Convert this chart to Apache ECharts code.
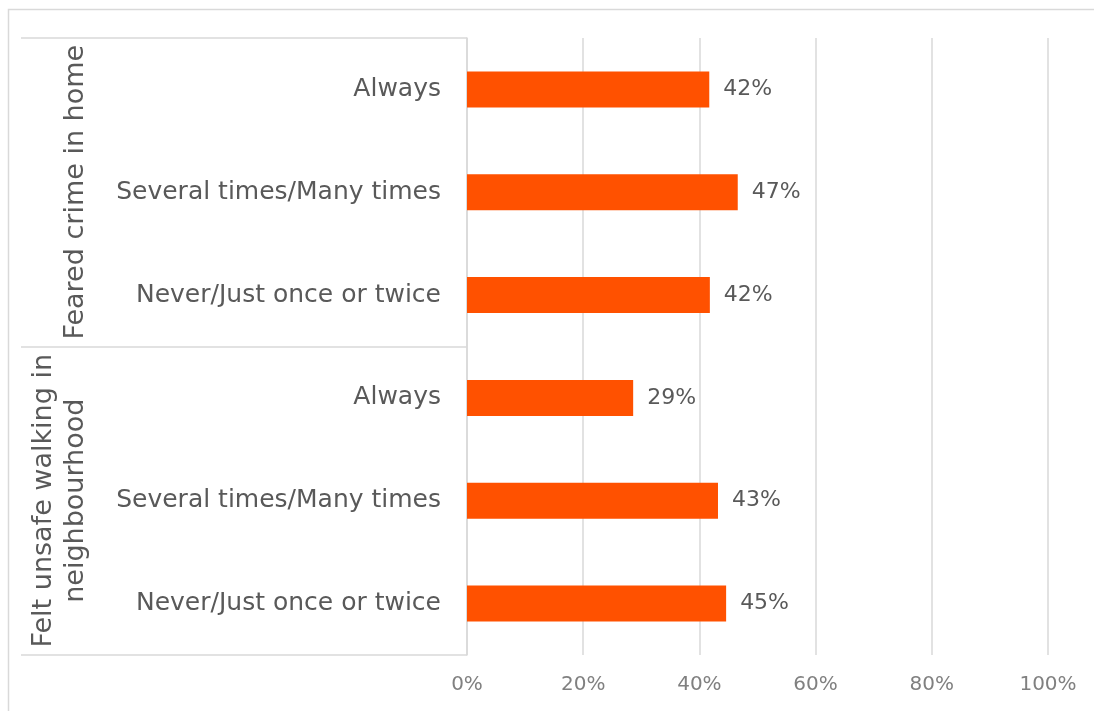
<!DOCTYPE html>
<html>
<head>
<meta charset="utf-8">
<script src="https://cdn.jsdelivr.net/npm/echarts@6/dist/echarts.min.js"></script>
<style>
html, body { margin: 0; padding: 0; background: #fff; }
#chart { width: 1094px; height: 711px; }
</style>
</head>
<body>
<div id="chart"></div>
<script>
// answer categories, top to bottom
var categories = [
    'Always', 'Several times/Many times', 'Never/Just once or twice',
    'Always', 'Several times/Many times', 'Never/Just once or twice'
];
// groups of three answers
var groups = ['Feared crime in home', 'Felt unsafe walking in\nneighbourhood'];
// share of respondents (fraction)
var values = [0.417, 0.466, 0.418, 0.286, 0.432, 0.446];
var ticks = [0, 0.2, 0.4, 0.6, 0.8, 1];

var fontFam = 'DejaVu Sans';
var myChart = echarts.init(document.getElementById('chart'));
myChart.setOption({
    animation: false,
    textStyle: { fontFamily: fontFam },
    // outer frame (left and top edges only are visible)
    graphic: [{
        type: 'polyline',
        shape: { points: [[8.5, 720], [8.5, 9.5], [1100, 9.5]] },
        style: { fill: null, stroke: '#d9d9d9', lineWidth: 1.5 },
        silent: true
    }],
    grid: { left: 467, right: 46, top: 38, bottom: 56 },
    xAxis: {
        type: 'value',
        min: ticks[0],
        max: ticks[ticks.length - 1],
        interval: 0.2,
        axisLine: { show: false },
        axisTick: { show: false },
        splitLine: { lineStyle: { color: '#d9d9d9', width: 1.5 } },
        axisLabel: {
            margin: 20,
            color: '#808080',
            fontSize: 20,
            fontFamily: fontFam,
            formatter: function (v) { return Math.round(v * 100) + '%'; }
        }
    },
    yAxis: [{
        type: 'category',
        data: categories,
        inverse: true,
        position: 'left',
        offset: 0,
        axisLine: { show: false },
        axisTick: { show: false },
        axisLabel: { margin: 26, color: '#595959', fontSize: 25, fontFamily: fontFam, interval: 0 }
    }, {
        type: 'category',
        data: groups,
        inverse: true,
        position: 'left',
        offset: 0,
        boundaryGap: true,
        axisLine: { show: true, lineStyle: { color: '#d9d9d9', width: 1.5 } },
        axisTick: { show: true, length: 446, lineStyle: { color: '#d9d9d9', width: 1.5 } },
        axisLabel: {
            interval: 0,
            rotate: 90,
            margin: 375,
            color: '#595959',
            fontSize: 27,
            lineHeight: 32,
            fontFamily: fontFam,
            align: 'center'
        }
    }],
    series: [{
        type: 'bar',
        yAxisIndex: 0,
        data: values,
        barWidth: 36,
        itemStyle: { color: '#FF5100' },
        label: {
            show: true,
            position: 'right',
            distance: 14,
            color: '#595959',
            fontSize: 22,
            fontFamily: fontFam,
            formatter: function (p) { return Math.round(p.value * 100) + '%'; }
        }
    }]
});
</script>
</body>
</html>
